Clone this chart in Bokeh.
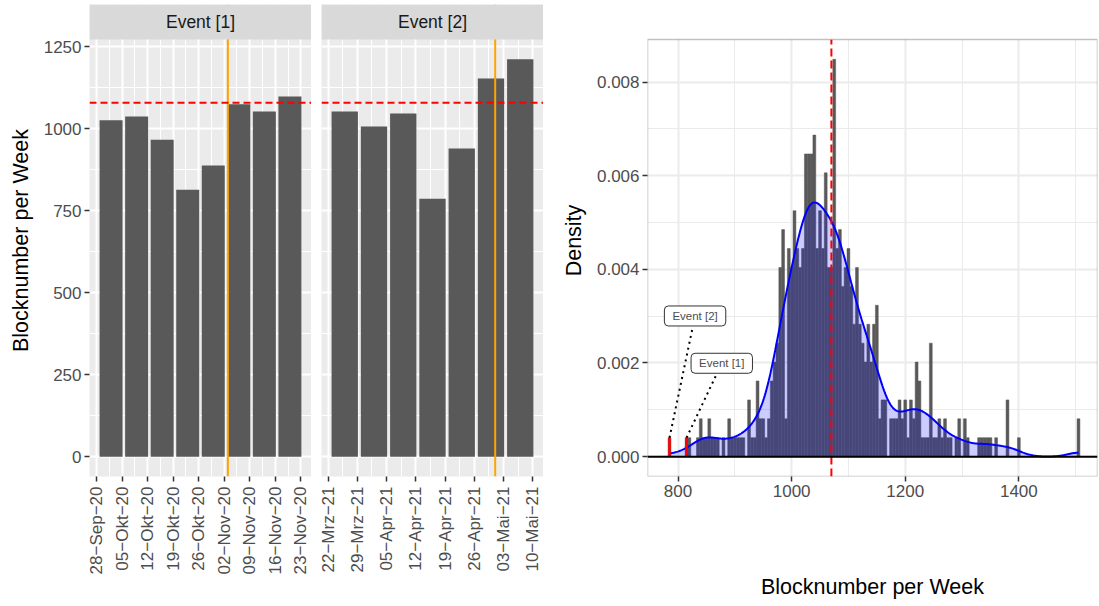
import math
import numpy as np
from bokeh.plotting import figure
from bokeh.models import (Range1d, FixedTicker, Span, BoxAnnotation, Label,
                          PrintfTickFormatter)
from bokeh.layouts import row
from bokeh.embed import file_html
from bokeh.resources import INLINE

FONT = "Liberation Sans"

# ---------------- data: weekly block numbers around two events ----------------
event1_title = "Event [1]"
event1_week_labels = ["28−Sep−20", "05−Okt−20", "12−Okt−20", "19−Okt−20", "26−Okt−20",
                      "02−Nov−20", "09−Nov−20", "16−Nov−20", "23−Nov−20"]
event1_values = [1026, 1038, 967, 814, 888, 1075, 1053, 1099]
event1_day = 36          # 03-Nov-20, days after 28-Sep-20

event2_title = "Event [2]"
event2_week_labels = ["22−Mrz−21", "29−Mrz−21", "05−Apr−21", "12−Apr−21", "19−Apr−21",
                      "26−Apr−21", "03−Mai−21", "10−Mai−21"]
event2_values = [1053, 1007, 1047, 787, 940, 1154, 1212]
event2_day = 40          # 01-Mai-21, days after 22-Mrz-21

reference_level = 1080   # red dashed horizontal line

# ---------------- data: histogram of weekly block numbers ----------------
hist_bin_width = 5
hist_first_center = 785
hist_counts = [
    1, 0, 0, 0, 0, 0, 1, 1, 0, 0,            # 785-830
    1, 2, 1, 1, 2, 1, 1, 1, 0, 1,            # 835-880
    0, 2, 1, 1, 1, 1, 1, 0, 3, 1,            # 885-930
    1, 4, 2, 2, 1, 2, 4, 5, 6, 10,           # 935-980
    12, 2, 11, 10, 13, 11, 10, 11, 16, 16,   # 985-1030
    16, 17, 11, 13, 11, 15, 10, 10, 21, 11,  # 1035-1080
    12, 9, 10, 11, 9, 7, 10, 7, 6, 5,        # 1085-1130
    7, 5, 7, 8, 2, 3, 3, 0, 2, 2,            # 1135-1180
    2, 3, 2, 3, 1, 3, 2, 5, 4, 1,            # 1185-1230
    1, 1, 6, 1, 1, 2, 1, 2, 1, 1,            # 1235-1280
    0, 1, 2, 0, 2, 1, 0, 0, 0, 1,            # 1285-1330
    1, 1, 1, 1, 0, 1, 0, 0, 0, 3,            # 1335-1380
    0, 0, 0, 1, 0, 0, 0, 0, 0, 0,            # 1385-1430
    0, 0, 0, 0, 0, 0, 0, 0, 0, 0,            # 1435-1480
    0, 0, 0, 0, 2,                           # 1485-1505
]
mean_level = 1070        # red dashed vertical line

# ---------------- styling / layout constants ----------------
BAR_GREY = "#595959"
TICK_COL = "#333333"
LABEL_COL = "#4D4D4D"
TICK_FS = "17px"
TITLE_FS = "21.5px"

DAY_OFFSET = 4.0         # bar centre relative to week start (days)
BAR_W = 6.3              # bar width in days
TOP_PX = 4
STRIP_PX = 35
PANEL_PX = 437
BOTTOM_PX = 130
TOTAL_H = TOP_PX + STRIP_PX + PANEL_PX + BOTTOM_PX   # 606


def style_axes(p):
    for ax in p.axis:
        ax.axis_line_color = None
        ax.major_tick_line_color = TICK_COL
        ax.major_tick_line_width = 1.5
        ax.major_tick_out = 5
        ax.major_tick_in = 0
        ax.minor_tick_line_color = None
        ax.major_label_text_font = FONT
        ax.major_label_text_font_size = TICK_FS
        ax.major_label_text_color = LABEL_COL
        ax.major_label_standoff = 3
        ax.axis_label_text_font = FONT
        ax.axis_label_text_font_size = TITLE_FS
        ax.axis_label_text_font_style = "normal"
        ax.axis_label_text_color = "black"


def left_panel(title, week_labels, values, marker_day, with_axis):
    n = len(values)
    centers = [DAY_OFFSET + 7 * i for i in range(n)]
    lo = centers[0] - BAR_W / 2
    hi = centers[-1] + BAR_W / 2
    pad = 0.05 * (hi - lo)
    x0, x1 = lo - pad, hi + pad

    vmax = max(event1_values + event2_values)
    ylo, yhi = -0.05 * vmax, 1.05 * vmax
    ytop = yhi + (yhi - ylo) * STRIP_PX / PANEL_PX

    left = 89 if with_axis else 10
    p = figure(width=left + 222, height=TOTAL_H, title=None,
               x_range=Range1d(x0, x1), y_range=Range1d(ylo, ytop),
               output_backend="svg", toolbar_location=None,
               y_axis_location="left" if with_axis else None,
               min_border_left=left, min_border_right=0,
               min_border_top=TOP_PX, min_border_bottom=BOTTOM_PX)
    p.background_fill_color = "#EBEBEB"
    p.border_fill_color = "white"
    p.outline_line_color = None

    p.vbar(x=centers, top=values, width=BAR_W, fill_color=BAR_GREY, line_color=None)

    p.add_layout(Span(location=marker_day, dimension="height", line_color="orange",
                      line_width=2))
    p.add_layout(Span(location=reference_level, dimension="width", line_color="red",
                      line_width=2, line_dash="7 4"))

    # facet strip
    p.add_layout(BoxAnnotation(bottom=yhi, fill_color="#D9D9D9", fill_alpha=1.0,
                               line_color=None, level="overlay"))
    p.add_layout(Label(x=(x0 + x1) / 2, y=(yhi + ytop) / 2, text=title,
                       text_align="center", text_baseline="middle",
                       text_font=FONT, text_font_size="17.5px", text_color="#1A1A1A",
                       level="overlay"))

    ticks = [7 * i for i in range(len(week_labels))]
    xt = FixedTicker(ticks=ticks, minor_ticks=[t + 3.5 for t in [-7] + ticks])
    p.xaxis.ticker = xt
    p.xaxis.major_label_overrides = {t: lab for t, lab in zip(ticks, week_labels)}
    p.xaxis.major_label_orientation = math.pi / 2
    yt = FixedTicker(ticks=[0, 250, 500, 750, 1000, 1250],
                     minor_ticks=[125, 375, 625, 875, 1125])
    p.yaxis.ticker = yt
    p.xgrid.ticker = xt
    p.ygrid.ticker = yt

    style_axes(p)
    p.xaxis.major_label_standoff = 5
    if with_axis:
        p.yaxis.axis_label = "Blocknumber per Week"
        p.yaxis.axis_label_standoff = 8

    for g in (p.xgrid, p.ygrid):
        g.grid_line_color = "white"
        g.grid_line_width = 2
        g.minor_grid_line_color = "white"
        g.minor_grid_line_width = 1
    return p


p1 = left_panel(event1_title, event1_week_labels, event1_values, event1_day, True)
p2 = left_panel(event2_title, event2_week_labels, event2_values, event2_day, False)

# ---------------- histogram + density ----------------
counts = np.array(hist_counts, dtype=float)
centers = hist_first_center + hist_bin_width * np.arange(len(counts))
N = counts.sum()
density = counts / (N * hist_bin_width)

obs = np.repeat(centers, counts.astype(int))
sd = obs.std(ddof=1)
q75, q25 = np.percentile(obs, [75, 25])
bw = 0.9 * min(sd, (q75 - q25) / 1.34) * len(obs) ** -0.2
xs = np.linspace(obs.min(), obs.max(), 512)
kde = np.exp(-0.5 * ((xs[:, None] - obs[None, :]) / bw) ** 2).sum(axis=1) / (len(obs) * bw * math.sqrt(2 * math.pi))

ymax = max(density.max(), kde.max())
ylo3, yhi3 = -0.05 * ymax, 1.05 * ymax
ytop3 = yhi3 + (yhi3 - ylo3) * STRIP_PX / PANEL_PX
xlo3 = centers[0] - hist_bin_width / 2
xhi3 = centers[-1] + hist_bin_width / 2
xpad = 0.05 * (xhi3 - xlo3)
FRAME_W3 = 450
x_start = xlo3 - xpad
x_end = x_start + (xhi3 + xpad - x_start) * FRAME_W3 / 453

p3 = figure(width=104 + FRAME_W3 + 2, height=TOTAL_H, title=None,
            x_range=Range1d(x_start, x_end), y_range=Range1d(ylo3, ytop3),
            output_backend="svg", toolbar_location=None,
            min_border_left=104, min_border_right=2, min_border_top=TOP_PX,
            min_border_bottom=BOTTOM_PX)
p3.background_fill_color = "white"
p3.border_fill_color = "white"
p3.outline_line_color = None

p3.vbar(x=centers, top=density, width=hist_bin_width, fill_color=BAR_GREY,
        line_color=BAR_GREY, line_width=0.5)
p3.varea(x=xs, y1=0, y2=kde, fill_color="blue", fill_alpha=0.2)
p3.line(xs, kde, line_color="blue", line_width=2)

# event bins in red
ev_vals = [min(event1_values), min(event2_values)]
ev_names = [event1_title, event2_title]
ev_idx = [int(round((v - hist_first_center) / hist_bin_width)) for v in ev_vals]
ev_x = [float(centers[i]) for i in ev_idx]
ev_y = [float(density[i]) for i in ev_idx]
p3.vbar(x=ev_x, top=ev_y, width=hist_bin_width * 0.9, fill_color="red", line_color=None)

p3.add_layout(Span(location=0, dimension="width", line_color="black", line_width=2))
p3.segment(x0=[mean_level], y0=[ylo3], x1=[mean_level], y1=[yhi3],
           line_color="red", line_width=2, line_dash="8 4")

# repelled labels
label_dx = [62, 45]
label_dy = [0.00159, 0.00260]
px_per_y = PANEL_PX / (yhi3 - ylo3)
half_h = 11 / px_per_y
for name, ex, ey, dx, dy in zip(ev_names, ev_x, ev_y, label_dx, label_dy):
    lx, ly = ex + dx, ey + dy
    t = (ly - half_h - ey) / (ly - ey)
    p3.segment(x0=[ex], y0=[ey], x1=[ex + t * (lx - ex)], y1=[ey + t * (ly - ey)],
               line_color="black", line_width=2, line_dash="2 4")
    p3.add_layout(Label(x=lx, y=ly, text=name, text_align="center", text_baseline="middle",
                        text_font=FONT, text_font_size="11.5px", text_color=LABEL_COL,
                        background_fill_color="white", border_line_color="#333333",
                        border_line_width=1, padding=(8, 4), border_radius=4))

# blank area above the panel + panel border
p3.add_layout(BoxAnnotation(bottom=yhi3, fill_color="white", fill_alpha=1.0,
                            line_color=None, level="overlay"))
p3.add_layout(BoxAnnotation(left=x_start, right=x_end, bottom=ylo3, top=yhi3,
                            fill_alpha=0.0, line_color="#333333", line_width=1.5,
                            level="overlay"))

xt3 = FixedTicker(ticks=[800, 1000, 1200, 1400], minor_ticks=[700, 900, 1100, 1300, 1500])
yt3 = FixedTicker(ticks=[0, 0.002, 0.004, 0.006, 0.008],
                  minor_ticks=[0.001, 0.003, 0.005, 0.007])
p3.xaxis.ticker = xt3
p3.yaxis.ticker = yt3
p3.xgrid.ticker = xt3
p3.ygrid.ticker = yt3
p3.yaxis.formatter = PrintfTickFormatter(format="%.3f")
for g in (p3.xgrid, p3.ygrid):
    g.grid_line_color = "#EBEBEB"
    g.grid_line_width = 2
    g.minor_grid_line_color = "#EBEBEB"
    g.minor_grid_line_width = 1
style_axes(p3)
p3.xaxis.axis_label = "Blocknumber per Week"
p3.yaxis.axis_label = "Density"
p3.xaxis.axis_label_standoff = 75
p3.yaxis.axis_label_standoff = 8

layout = row(p1, p2, p3)
open("out.html", "w").write(file_html(layout, INLINE))
